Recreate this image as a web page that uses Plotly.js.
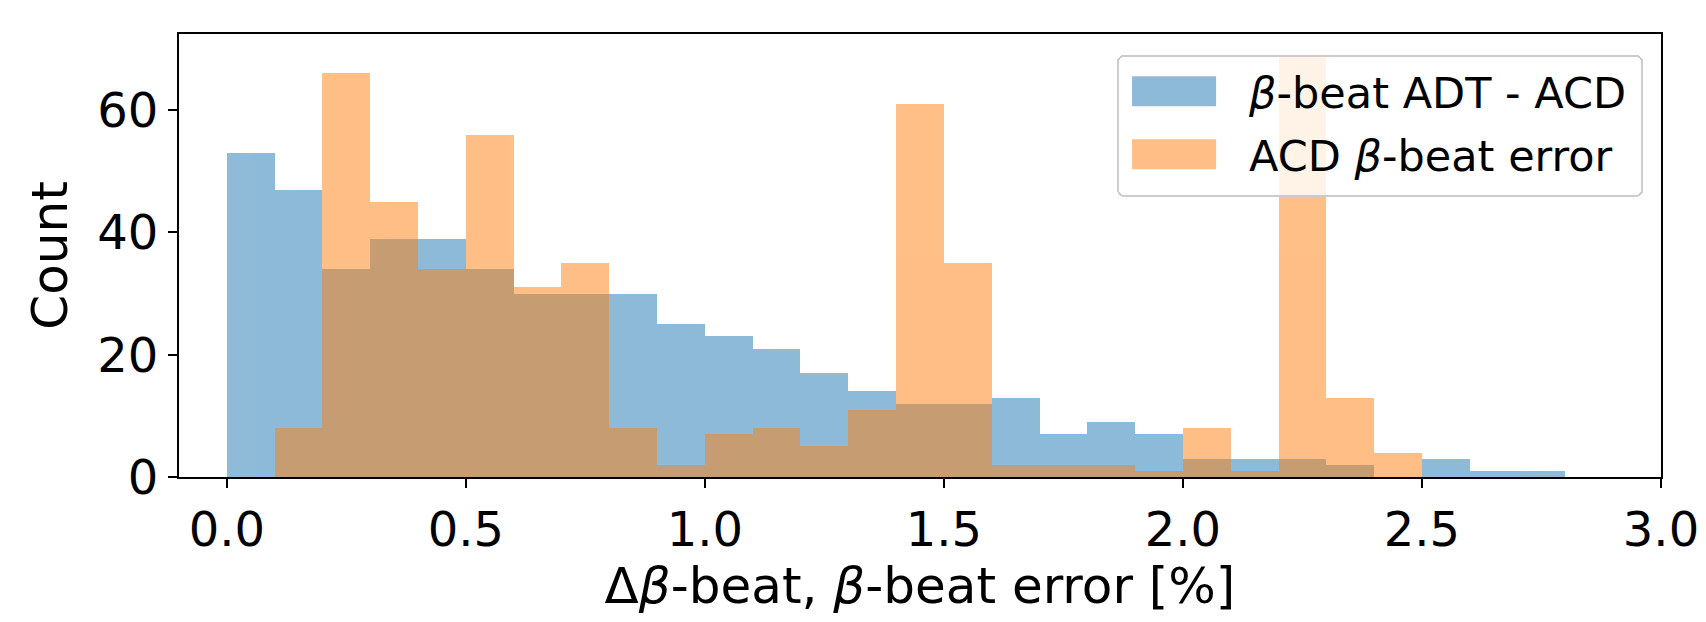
<!DOCTYPE html>
<html>
<head>
<meta charset="utf-8">
<script src="https://cdn.plot.ly/plotly-3.0.1.min.js"></script>
<style>
  html, body { margin: 0; padding: 0; background: #ffffff; }
  #chart { width: 1706px; height: 622px; }
</style>
</head>
<body>
<div id="chart"></div>
<script>
// Histogram bins (left edges, width 0.1 %)
const binLeft = [0.0, 0.1, 0.2, 0.3, 0.4, 0.5, 0.6, 0.7, 0.8, 0.9,
                 1.0, 1.1, 1.2, 1.3, 1.4, 1.5, 1.6, 1.7, 1.8, 1.9,
                 2.0, 2.1, 2.2, 2.3, 2.4, 2.5, 2.6, 2.7];
const binWidth = 0.1;

// Counts: beta-beat ADT - ACD
const countsADTminusACD = [53, 47, 34, 39, 39, 34, 30, 30, 30, 25,
                           23, 21, 17, 14, 12, 12, 13, 7, 9, 7,
                           3, 3, 3, 2, 0, 3, 1, 1];
// Counts: ACD beta-beat error
const countsACDerror = [0, 8, 66, 45, 34, 56, 31, 35, 8, 2,
                        7, 8, 5, 11, 61, 35, 2, 2, 2, 1,
                        8, 1, 69, 13, 4, 0, 0, 0];

const seriesNames = ['<i>β</i>-beat ADT - ACD', 'ACD <i>β</i>-beat error'];
const xTickVals = [0.0, 0.5, 1.0, 1.5, 2.0, 2.5, 3.0];
const yTickVals = [0, 20, 40, 60];

const FONT = 'DejaVu Sans, Liberation Sans, sans-serif';

const traces = [
  {
    type: 'bar', name: seriesNames[0], legendgroup: 'a',
    x: binLeft, y: countsADTminusACD,
    width: binWidth, offset: 0,
    marker: { color: '#1f77b4', line: { width: 0 } },
    opacity: 0.5, hoverinfo: 'x+y'
  },
  {
    type: 'bar', name: seriesNames[1], legendgroup: 'b',
    x: binLeft, y: countsACDerror,
    width: binWidth, offset: 0,
    marker: { color: '#ff7f0e', line: { width: 0 } },
    opacity: 0.5, hoverinfo: 'x+y'
  }
];

const layout = {
  width: 1706, height: 622,
  margin: { l: 179, r: 45, t: 34, b: 145, pad: 0 },
  paper_bgcolor: '#ffffff', plot_bgcolor: '#ffffff',
  barmode: 'overlay', bargap: 0,
  font: { family: FONT, color: '#000000', size: 48 },
  showlegend: true,
  legend: {
    x: 0.9825, xanchor: 'right', y: 0.953, yanchor: 'top',
    bgcolor: 'rgba(255,255,255,0.8)',
    bordercolor: '#cccccc', borderwidth: 2,
    font: { family: FONT, size: 43, color: '#000000' },
    itemwidth: 120,
    traceorder: 'grouped',
    tracegroupgap: 4
  },
  xaxis: {
    range: [-0.1, 3.0],
    tickmode: 'array', tickvals: xTickVals, tickformat: '.1f',
    ticks: 'outside', ticklen: 9, tickwidth: 2, tickcolor: '#000000',
    showline: true, linecolor: '#000000', linewidth: 2, mirror: true,
    showgrid: false, zeroline: false,
    tickfont: { family: FONT, size: 48, color: '#000000' },
    title: { text: 'Δ<i>β</i>-beat, <i>β</i>-beat error [%]',
             font: { family: FONT, size: 50, color: '#000000' }, standoff: 12 }
  },
  yaxis: {
    range: [0, 72.45],
    tickmode: 'array', tickvals: yTickVals,
    ticks: 'outside', ticklen: 9, tickwidth: 2, tickcolor: '#000000',
    showline: true, linecolor: '#000000', linewidth: 2, mirror: true,
    showgrid: false, zeroline: false,
    tickfont: { family: FONT, size: 48, color: '#000000' },
    title: { text: 'Count',
             font: { family: FONT, size: 50, color: '#000000' }, standoff: 14 }
  }
};

Plotly.newPlot('chart', traces, layout, { displayModeBar: false, staticPlot: true }).then(function (gd) {
  // enlarge legend patches to matplotlib-like rectangles
  const pts = gd.querySelectorAll('.legend .legendpoints path');
  pts.forEach(function (p) {
    p.setAttribute('d', 'M-42,15H42V-15H-42Z');
    p.setAttribute('transform', 'translate(55,0)');
  });
  // matplotlib-like frame padding and rounded corners
  const bg = gd.querySelector('.legend rect.bg');
  if (bg) {
    const h = parseFloat(bg.getAttribute('height'));
    const w = parseFloat(bg.getAttribute('width'));
    if (!isNaN(h)) bg.setAttribute('height', h + 6);
    if (!isNaN(w)) bg.setAttribute('width', w + 8);
    bg.setAttribute('rx', 6); bg.setAttribute('ry', 6);
  }
});
</script>
</body>
</html>
